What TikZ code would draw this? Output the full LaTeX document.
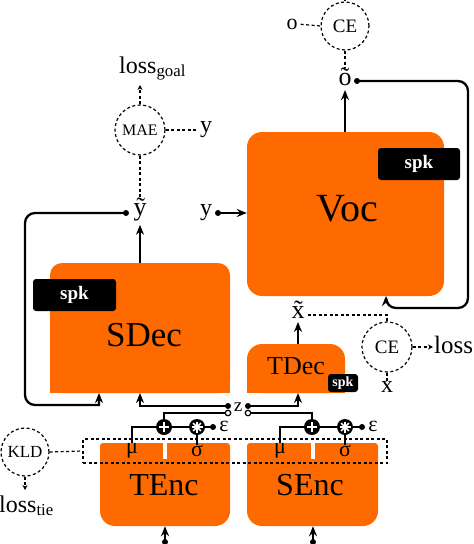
\documentclass[tikz,border=0pt]{standalone}
\usepackage{fontspec}
\setmainfont{Liberation Serif}
\usetikzlibrary{arrows.meta,calc}
\definecolor{orng}{RGB}{255,106,0}
\tikzset{
 box/.style={fill=orng, draw=none, inner sep=0pt},
 spkbox/.style={fill=black, rounded corners=3pt, text=white, font=\bfseries\fontsize{19}{19}\selectfont, inner sep=0pt},
 conn/.style={line width=2.3pt, -{Stealth[length=10pt,width=8pt]}},
 wire/.style={line width=2.3pt},
 dsh/.style={line width=1.2pt, dash pattern=on 3pt off 2.5pt},
 dsharr/.style={dsh, -{Stealth[length=5pt,width=5pt]}},
 lossc/.style={circle, draw, dsh, inner sep=0pt},
 dotf/.style={circle, fill=black, inner sep=0pt, minimum size=6pt},
 doto/.style={circle, fill=white, draw=black, line width=1.2pt, inner sep=0pt, minimum size=5.5pt},
 lbl/.style={inner sep=0pt, font=\fontsize{24}{24}\selectfont},
 tlbl/.style={inner sep=0pt, font=\fontsize{26}{26}\selectfont},
 glbl/.style={inner sep=0pt, font=\fontsize{22}{22}\selectfont},
 opc/.style={circle, fill=black, inner sep=0pt, minimum size=16pt},
}
\begin{document}
\begin{tikzpicture}[x=1pt,y=-1pt]
\useasboundingbox (0,0) rectangle (474,544);

% ---------- boxes ----------
\node[box, rounded corners=15pt, minimum width=197pt, minimum height=164pt] (voc) at (345.5,214) {};
\node[box, rounded corners=12pt, minimum width=180pt, minimum height=130pt] (sdec) at (140,328) {};
\fill[orng] (50,370) rectangle (230,393);
\node[box, rounded corners=15pt, minimum width=98pt, minimum height=49pt] (tdec) at (296,368.5) {};
\fill[orng] (247,375) rectangle (345,393);
\node[box, rounded corners=15pt, minimum width=130pt, minimum height=83pt] (tenc) at (165,484.5) {};
\fill[orng, rounded corners=3pt] (100,462) -- (100,443) -- (230,443) -- (230,462) -- cycle;
\fill[white] (163,443) rectangle (167,459);
\node[box, rounded corners=15pt, minimum width=131pt, minimum height=83pt] (senc) at (312.5,484.5) {};
\fill[orng, rounded corners=3pt] (247,462) -- (247,443) -- (378,443) -- (378,462) -- cycle;
\fill[white] (311,443) rectangle (315,459);

% box texts
\node[inner sep=0pt, font=\fontsize{40}{40}\selectfont] (voct) at (347,209) {Voc};
\node[inner sep=0pt, font=\fontsize{35}{35}\selectfont] (sdect) at (144,335) {SDec};
\node[inner sep=0pt, font=\fontsize{26}{26}\selectfont] (tdect) at (296,366) {TDec};
\node[inner sep=0pt, font=\fontsize{32}{32}\selectfont] (tenct) at (164,485) {TEnc};
\node[inner sep=0pt, font=\fontsize{32}{32}\selectfont] (senct) at (310,485) {SEnc};

% spk boxes
\node[spkbox, minimum width=82pt, minimum height=32pt] (vocspk) at (419,164) {spk};
\node[spkbox, minimum width=83pt, minimum height=32pt] (sdecspk) at (74.5,295) {spk};
\node[spkbox, font=\bfseries\fontsize{14}{14}\selectfont, minimum width=30pt, minimum height=18pt] (tdecspk) at (343,383) {spk};

% ---------- Voc output / CE top ----------
\node[tlbl] (ot) at (345,77) {õ};
\draw[conn, shorten >=4pt] (ot |- voc.north) -- (ot.south);
\node[dotf] (od) at (357,81) {};
\draw[conn, rounded corners=10pt] (od.center) -- (468,81) -- (468,308) -- (386,308) [sharp corners] -- (386,296);
\node[lossc, minimum size=48pt, font=\fontsize{19}{19}\selectfont] (ce1) at (345,26) {CE};
\node[lbl, font=\fontsize{22}{22}\selectfont] (o) at (292,24) {o};
\draw[dsh, shorten <=3pt] (o.east) -- (ce1.west);
\draw[dsh] (ce1.south) -- (ot.north);
\draw[dsh] (ce1.north) -- ++(0,-12);

% ---------- MAE ----------
\node[lossc, minimum size=50pt, font=\fontsize{16}{16}\selectfont] (mae) at (140,130) {MAE};
\node[anchor=base west, inner sep=0pt, font=\fontsize{24}{24}\selectfont] (lg) at (119,73) {loss\textsubscript{goal}};
\coordinate (lgend) at (140,85);
\draw[dsharr] (mae.north) -- (lgend);
\node[lbl] (ym) at (206,130) {y};
\draw[dsh, shorten >=4pt] (mae.east) -- (ym.west);
\node[tlbl] (yt) at (140,210) {ỹ};
\draw[dsh] (mae.south) -- (yt.north);
\draw[conn, shorten >=3pt] (yt |- sdec.north) -- (yt.south);
\node[dotf] (ytd) at (126,213) {};
\draw[conn, rounded corners=10pt] (ytd.center) -- (25,213) -- (25,405) [sharp corners] -- (99,405) -- (99,393);

% y into Voc
\node[lbl] (yv) at (206,213) {y};
\node[dotf] (yvd) at (218,213) {};
\draw[conn] (yvd.center) -- (voc.west |- yvd);

% ---------- z ----------
\node[inner sep=0pt, font=\fontsize{19}{19}\selectfont] (z) at (238,407) {z};
\node[dotf] (zl1) at (228,406) {};
\node[dotf] (zr1) at (248,406) {};
\node[doto] (zl2) at (228,413) {};
\node[doto] (zr2) at (248,413) {};
\draw[conn] (zl1.center) -- (140,406) -- (140,393);
\draw[conn] (zr1.center) -- (298,406) -- (298,393);

% ---------- sampling ----------
\node[opc] (p1) at (164,427) {};
\node[opc] (s1) at (197,427) {};
\node[opc] (p2) at (312,427) {};
\node[opc] (s2) at (345,427) {};
\draw[wire] (zl2.west) -- (164,413) -- (p1.north);
\draw[wire] (zr2.east) -- (312,413) -- (p2.north);
\draw[wire] (p1.east) -- (s1.west);
\draw[wire] (p2.east) -- (s2.west);
\foreach \p in {p1,p2}{
  \draw[white, line width=2.2pt] ([xshift=-5pt]\p.center) -- ([xshift=5pt]\p.center);
  \draw[white, line width=2.2pt] ([yshift=-5pt]\p.center) -- ([yshift=5pt]\p.center);
}
\foreach \s in {s1,s2}{
  \foreach \a in {0,45,90,135}{
    \draw[white, line width=1.6pt] ($(\s.center)+(\a:5.5pt)$) -- ($(\s.center)+(\a+180:5.5pt)$);
  }
}
\node[glbl] (mu1) at (132,451) {μ};
\node[glbl] (sg1) at (197,451) {σ};
\node[glbl] (mu2) at (280,451) {μ};
\node[glbl] (sg2) at (345,451) {σ};
\draw[wire] (p1.west) -- (132,427) -- (mu1.north);
\draw[wire] (p2.west) -- (280,427) -- (mu2.north);
\draw[wire] (s1.south) -- (sg1.north);
\draw[wire] (s2.south) -- (sg2.north);
\node[dotf] (e1d) at (213,427) {};
\node[dotf] (e2d) at (362,427) {};
\node[glbl] (e1) at (224,426) {ε};
\node[glbl] (e2) at (373,426) {ε};
\draw[wire] (s1.east) -- (e1d.center);
\draw[wire] (s2.east) -- (e2d.center);

% ---------- latent box / KLD ----------
\node[draw, dsh, inner sep=0pt, minimum width=304pt, minimum height=24pt] (lat) at (235,451) {};
\node[lossc, minimum size=48pt, font=\fontsize{17}{17}\selectfont] (kld) at (25,452) {KLD};
\draw[dsh] (kld.east) -- (lat.west);
\coordinate (ltend) at (25,490);
\draw[dsharr] (kld.south) -- (ltend);
\node[anchor=base west, inner sep=0pt, font=\fontsize{24}{24}\selectfont] (lt) at (-1,512) {loss\textsubscript{tie}};

% inputs
\node[dotf] (ti) at (165,542) {};
\draw[conn] (ti.center) -- (ti |- tenc.south);
\node[dotf] (si) at (313,542) {};
\draw[conn] (si.center) -- (si |- senc.south);

% ---------- TDec output / CE ----------
\node[tlbl] (xt) at (298,310) {\~x};
\draw[conn, shorten >=3pt] (xt |- tdec.north) -- (xt.south);
\node[lossc, minimum size=50pt, font=\fontsize{19}{19}\selectfont] (ce2) at (387,347) {CE};
\coordinate (xj) at (387,315);
\draw[dsh, shorten <=3pt] (xt.east |- xj) -- (xj) -- (ce2.north);
\coordinate (lend) at (433,347);
\draw[dsharr] (ce2.east) -- (lend);
\node[anchor=west, inner sep=0pt, font=\fontsize{25}{25}\selectfont] (loss) at (434,345) {loss};
\node[lbl] (xx) at (387,387) {x};
\draw[dsh] (ce2.south) -- (xx.north);
\end{tikzpicture}
\end{document}
